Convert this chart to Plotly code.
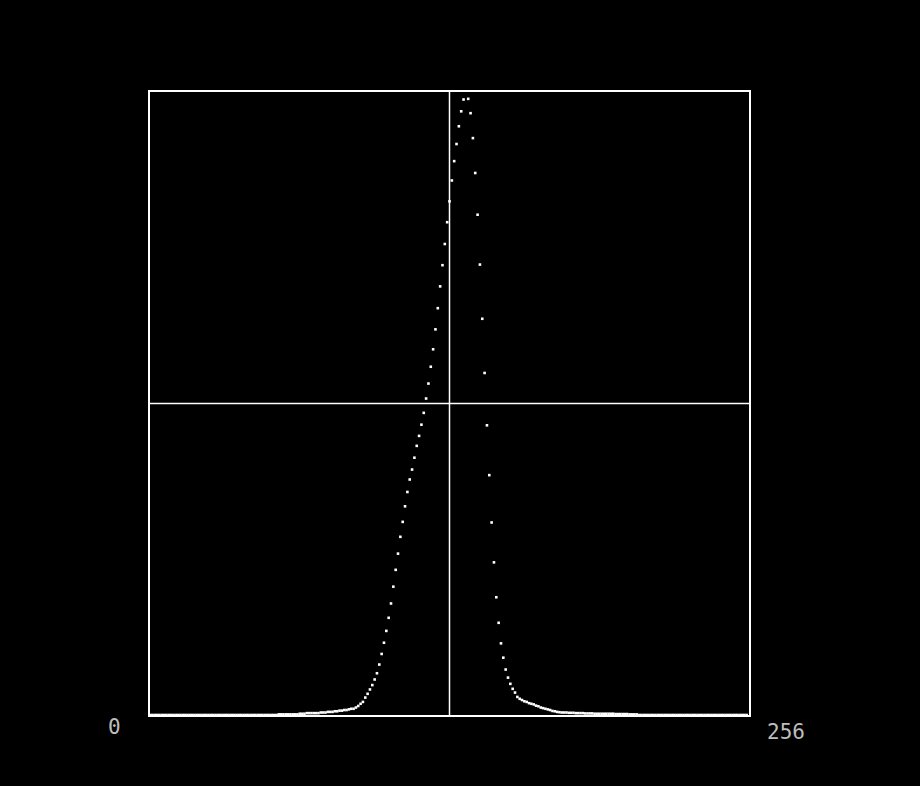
import plotly.graph_objects as go

# Channel index 0..255 and normalized counts
levels = list(range(256))

tail_left = [0.0] * 55 + [0.001] * 9                      # 0..63
rise = [0.002, 0.002, 0.002, 0.003, 0.003, 0.003, 0.003,  # 64..70
        0.003, 0.003, 0.004, 0.004, 0.004, 0.005, 0.005,  # 71..77
        0.005, 0.006, 0.006, 0.007, 0.007, 0.008,         # 78..83
        0.008, 0.009, 0.010, 0.010, 0.012, 0.0145, 0.018, # 84..90
        0.021, 0.028, 0.034, 0.041, 0.048, 0.057, 0.067,  # 91..97
        0.081, 0.098, 0.116, 0.135, 0.156, 0.179, 0.206,  # 98..104
        0.233, 0.259, 0.286, 0.310, 0.335, 0.358, 0.378,  # 105..111
        0.394, 0.413, 0.432, 0.448, 0.466, 0.485, 0.508,  # 112..118
        0.532, 0.559, 0.587, 0.619, 0.653, 0.688, 0.722,  # 119..125
        0.756, 0.791, 0.8245, 0.858, 0.889, 0.9165, 0.945,  # 126..132
        0.969, 0.988, 1.02]                                # 133..135
fall = [0.989, 0.966, 0.926, 0.870, 0.803, 0.723, 0.636,  # 136..142
        0.549, 0.465, 0.385, 0.309, 0.245, 0.189, 0.148,  # 143..149
        0.115, 0.092, 0.073, 0.060, 0.050, 0.042, 0.036,  # 150..156
        0.029, 0.026, 0.024, 0.022, 0.021, 0.019, 0.018,  # 157..163
        0.017, 0.015, 0.014, 0.012, 0.011, 0.010, 0.009,  # 164..170
        0.008, 0.0065, 0.006, 0.005, 0.0045, 0.004, 0.004,  # 171..177
        0.004, 0.0035, 0.0035, 0.0035, 0.003, 0.003, 0.003,  # 178..184
        0.003, 0.0025, 0.0025, 0.0025, 0.0025, 0.002, 0.002,  # 185..191
        0.002, 0.002, 0.002, 0.002, 0.002, 0.002, 0.002,  # 192..198
        0.0015, 0.0015, 0.0015, 0.0015, 0.0015, 0.0015,   # 199..204
        0.001, 0.001, 0.001, 0.001]                        # 205..208
tail_right = [0.0] * (256 - 209)                           # 209..255
counts = tail_left + rise + fall + tail_right

x_labels = ["0", "256"]

fig = go.Figure()
fig.add_trace(go.Scatter(
    x=levels, y=counts, mode="markers",
    marker=dict(symbol="square", size=2.6, color="white", line=dict(width=0)),
    cliponaxis=True, hoverinfo="skip", showlegend=False,
))

label_font = dict(family="DejaVu Sans Mono", size=21, color="#bdbdbd")

fig.update_layout(
    width=920, height=786,
    paper_bgcolor="black", plot_bgcolor="black",
    margin=dict(l=150, r=171, t=92, b=71),
    xaxis=dict(range=[0, 256], showgrid=False, zeroline=False, showticklabels=False,
               ticks="", showline=True, linecolor="white", linewidth=2, mirror=True),
    yaxis=dict(range=[0, 1], showgrid=False, zeroline=False, showticklabels=False,
               ticks="", showline=True, linecolor="white", linewidth=2, mirror=True),
    shapes=[
        dict(type="line", xref="x", yref="paper", x0=128, x1=128, y0=0, y1=1,
             line=dict(color="white", width=1.5)),
        dict(type="line", xref="paper", yref="y", x0=0, x1=1, y0=0.5, y1=0.5,
             line=dict(color="white", width=1.5)),
    ],
    annotations=[
        dict(text=x_labels[0], xref="paper", yref="paper", x=-0.059, y=-0.020,
             showarrow=False, font=label_font, xanchor="center", yanchor="middle"),
        dict(text=x_labels[1], xref="paper", yref="paper", x=1.062, y=-0.028,
             showarrow=False, font=label_font, xanchor="center", yanchor="middle"),
    ],
)

fig.write_html(
    "out.html",
    config={"displayModeBar": False},
    post_script="document.body.style.margin='0';document.body.style.background='black';",
)
